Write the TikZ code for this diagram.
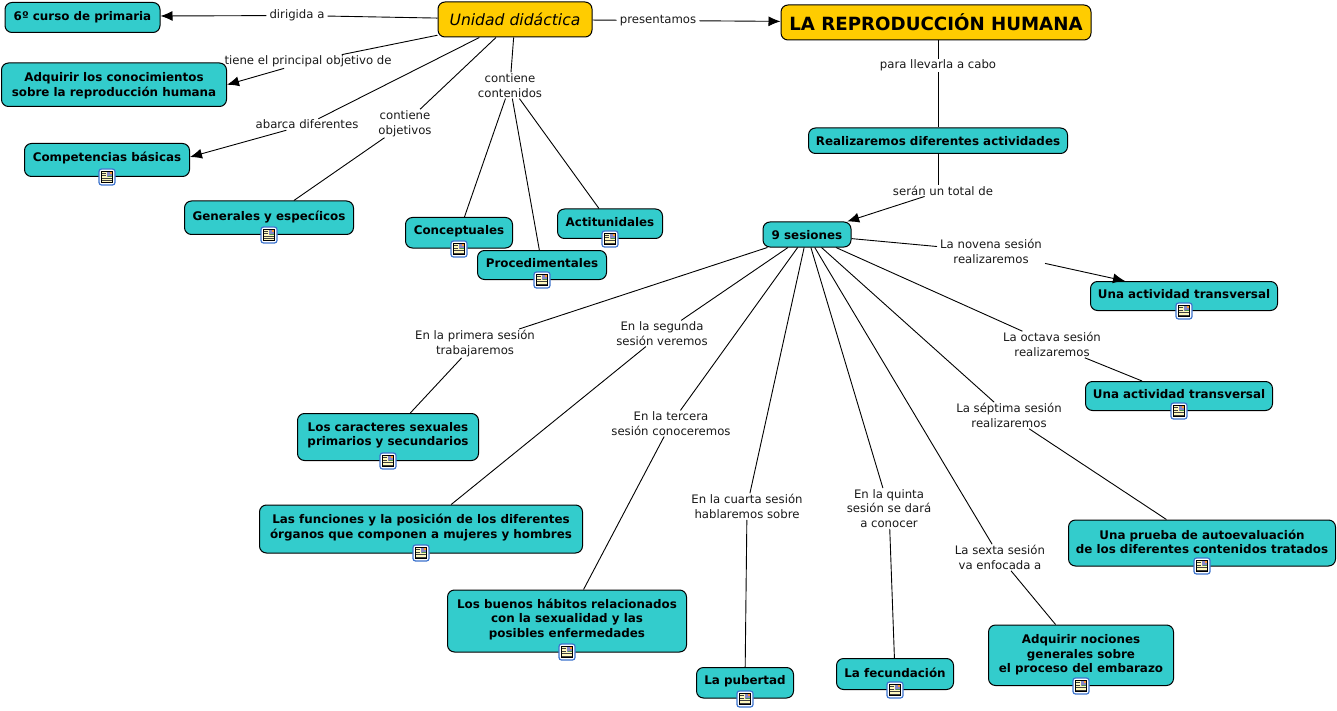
\documentclass[tikz,border=0pt]{standalone}
\usepackage{fontspec}
\usepackage{array}
\setmainfont{DejaVu Sans}
\usetikzlibrary{arrows.meta,calc}
\definecolor{teal}{RGB}{51,204,204}
\definecolor{gold}{RGB}{255,204,0}
\definecolor{iconblue}{RGB}{60,115,205}
\definecolor{doccream}{RGB}{255,248,190}
\tikzset{
  x=1pt,y=-1pt,
  box/.style={draw=black,line width=1pt,rounded corners=7pt,fill=teal,inner sep=0pt,font=\fontsize{11.9}{14.7}\selectfont\bfseries,text=black},
  goldbox/.style={box,fill=gold},
  lab/.style={font=\fontsize{11.7}{14.7}\selectfont,align=center,inner xsep=3pt,inner ysep=1pt,text=black!90,yshift=-0.5pt},
  conn/.style={line width=0.9pt,black},
  arr/.style={conn,-{Latex[length=12pt,width=10pt]}},
  docicon/.pic={
    \draw[iconblue,fill=white,line width=1.2pt,rounded corners=2.5pt] (-8,-8) rectangle (8,8);
    \draw[black,fill=doccream,line width=0.8pt] (-5.8,-5.8) rectangle (5.8,5.8);
    \fill[blue!35!gray!70!white] (0.2,-5.2) rectangle (5.2,0.2);
    \fill[orange!80!white] (3,-5.2) rectangle (5.2,-3);
    \fill[green!40!black!70!white] (0.7,-1) rectangle (5.2,0.2);
    \draw[black!75,line width=0.4pt] (-4.8,-3.6) -- (-1,-3.6) (-4.8,-1.3) -- (-1,-1.3) (-4.8,1.4) -- (4.8,1.4) (-4.8,3.7) -- (4.8,3.7);
  }
}
% optional style, x1, y1, x2, y2, raise, text, name
\newcommand{\bx}[8][box]{%
  \node[#1,minimum width={(#4)-(#2)},minimum height={(#5)-(#3)}] (#8) at ({((#2)+(#4))/2},{((#3)+(#5))/2})
  {\vbox{\hbox{\begin{tabular}{@{}c@{}}#7\end{tabular}}\kern\dimexpr#6pt-5pt\relax}};}
\begin{document}
\begin{tikzpicture}
\useasboundingbox (0,0) rectangle (1337,711);
\bx[goldbox,font=\fontsize{15.6}{18}\selectfont\itshape]{438}{2}{592}{37}{0}{Unidad didáctica}{unidad}
\bx[goldbox,font=\fontsize{18.2}{20}\selectfont\bfseries]{781}{5}{1091}{40}{0}{LA REPRODUCCIÓN HUMANA}{titulo}
\bx{5}{2.5}{160}{32.5}{4}{6º curso de primaria}{curso}
\bx{1.5}{63}{226.5}{106.5}{3}{Adquirir los conocimientos\\sobre la reproducción humana}{adq}
\bx{24.5}{143.5}{189.5}{176.5}{7}{Competencias básicas}{comp}
\bx{184.5}{201}{353.5}{234.5}{5}{Generales y especíicos}{gen}
\bx{405.5}{217.5}{512.5}{248}{7}{Conceptuales}{concep}
\bx{477.5}{250.5}{606.5}{279.5}{5}{Procedimentales}{proc}
\bx{557.5}{209}{662.5}{238.5}{5}{Actitunidales}{acti}
\bx{808.5}{128}{1067.5}{153.5}{1}{Realizaremos diferentes actividades}{real}
\bx{763}{222}{851}{247}{0}{9 sesiones}{ses}
\bx{1090.5}{281.5}{1277.5}{310.5}{5}{Una actividad transversal}{tr1}
\bx{1085.5}{381.5}{1272.5}{410.5}{5}{Una actividad transversal}{tr2}
\bx{297.5}{413.5}{478.5}{460.5}{8}{Los caracteres sexuales\\primarios y secundarios}{carac}
\bx{259.5}{505}{582.5}{553}{7}{Las funciones y la posición de los diferentes\\órganos que componen a mujeres y hombres}{func}
\bx{447.5}{590}{686.5}{652}{7}{Los buenos hábitos relacionados\\con la sexualidad y las\\posibles enfermedades}{buenos}
\bx{696.5}{667.5}{793.5}{698}{8}{La pubertad}{pub}
\bx{836.5}{658.5}{953.5}{689.5}{3}{La fecundación}{fec}
\bx{988.5}{625}{1173.5}{685.5}{5}{Adquirir nociones\\generales sobre\\el proceso del embarazo}{noc}
\bx{1068.5}{520}{1335.5}{566}{4}{Una prueba de autoevaluación\\de los diferentes contenidos tratados}{prueba}
% linking phrases
\node[lab] (l1) at (297,15) {dirigida a};
\node[lab] (l2) at (658,20) {presentamos};
\node[lab] (l3) at (308,61) {tiene el principal objetivo de};
\node[lab] (l4) at (307,124) {abarca diferentes};
\node[lab] (l5) at (405,123) {contiene\\objetivos};
\node[lab] (l6) at (510,85) {contiene\\contenidos};
\node[lab] (l7) at (938,65) {para llevarla a cabo};
\node[lab] (l8) at (943,190) {serán un total de};
\node[lab] (n9) at (991,251) {La novena sesión\\realizaremos};
\node[lab] (n8) at (1052,344) {La octava sesión\\realizaremos};
\node[lab] (n7) at (1009,415) {La séptima sesión\\realizaremos};
\node[lab] (n1) at (475,343) {En la primera sesión\\trabajaremos};
\node[lab] (n2) at (662,333) {En la segunda\\sesión veremos};
\node[lab] (n3) at (671,423) {En la tercera\\sesión conoceremos};
\node[lab] (n4) at (747,506) {En la cuarta sesión\\hablaremos sobre};
\node[lab] (n5) at (889,508) {En la quinta\\sesión se dará\\a conocer};
\node[lab] (n6) at (1000,557) {La sexta sesión\\va enfocada a};
% connectors
\draw[conn] (unidad) -- (l1); \draw[arr] (l1) -- ([yshift=1.5pt]curso.east);
\draw[conn] (unidad) -- (l2); \draw[arr] (l2) -- (titulo);
\draw[conn] (unidad) -- (l3); \draw[arr] (l3) -- (adq.east);
\draw[conn] (unidad) -- (l4); \draw[arr] (l4) -- ([yshift=3pt]comp.east);
\draw[conn] (unidad) -- (l5); \draw[conn] (l5) -- (gen);
\draw[conn] (unidad) -- (l6);
\draw[conn] (l6) -- (concep); \draw[conn] (l6) -- (proc); \draw[conn] (l6) -- (acti);
\draw[conn] (titulo.south -| l7.north) -- (l7.north); \draw[conn] (l7.south) -- (real.north -| l7.south);
\draw[conn] (real.south) -- (real.south |- l8.north); \draw[arr] (l8) -- (ses);
\foreach \a/\b in {n1/carac,n2/func,n3/buenos,n4/pub,n5/fec,n6/noc,n7/prueba,n8/tr2}{
  \draw[conn] (ses) -- (\a); \draw[conn] (\a) -- (\b);
}
\draw[conn] (ses) -- (n9); \draw[arr] (n9) -- ($(tr1.north west)+(35,0)$);
% resource icons
\foreach \x/\y in {107/177,269/235,459/249,542/280,610/239,1184/311,1179/411,388/461,421/553,567/652,745/699,895/690,1081/686,1202/566}{
  \pic at (\x,\y) {docicon};
}
\end{tikzpicture}
\end{document}
